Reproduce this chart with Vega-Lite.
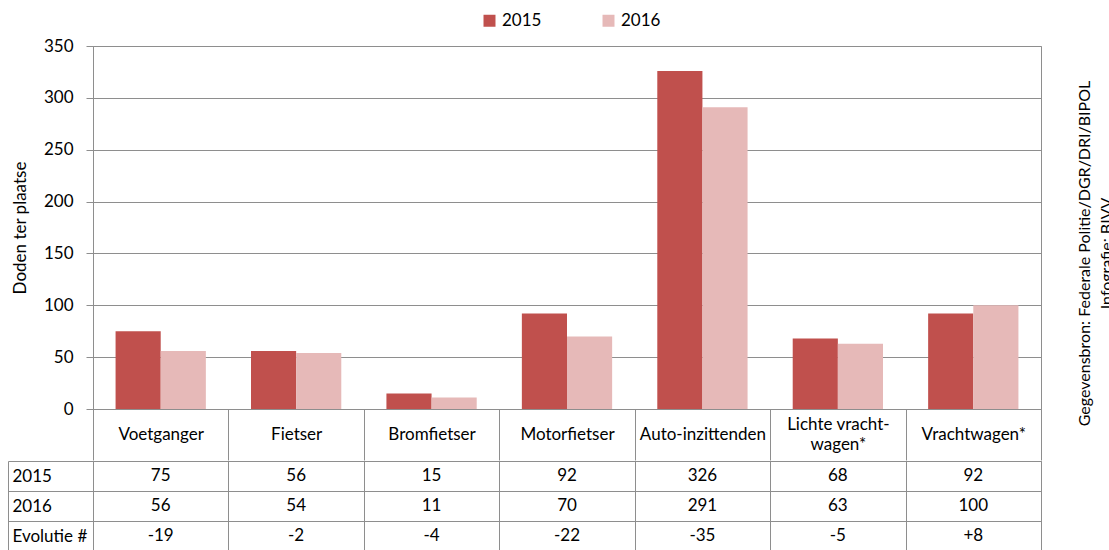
{
  "$schema": "https://vega.github.io/schema/vega-lite/v6.json",
  "padding": {"left": 7, "top": 12, "right": 0, "bottom": 0},
  "background": "white",
  "spacing": -11,
  "config": {
    "font": "Lato",
    "view": {"stroke": "#8e8e8e", "strokeWidth": 1},
    "axis": {"labelFont": "Lato", "titleFont": "Lato", "labelColor": "#000", "titleColor": "#000", "labelFontSize": 17, "titleFontSize": 17, "titleFontWeight": "normal", "domainColor": "#8e8e8e", "tickColor": "#8e8e8e", "gridColor": "#8e8e8e"},
    "legend": {"labelFont": "Lato", "labelFontSize": 17, "labelColor": "#000"}
  },
  "datasets": {
    "doden": [
      {"categorie": "Voetganger", "jaar": "2015", "waarde": 75},
      {"categorie": "Voetganger", "jaar": "2016", "waarde": 56},
      {"categorie": "Fietser", "jaar": "2015", "waarde": 56},
      {"categorie": "Fietser", "jaar": "2016", "waarde": 54},
      {"categorie": "Bromfietser", "jaar": "2015", "waarde": 15},
      {"categorie": "Bromfietser", "jaar": "2016", "waarde": 11},
      {"categorie": "Motorfietser", "jaar": "2015", "waarde": 92},
      {"categorie": "Motorfietser", "jaar": "2016", "waarde": 70},
      {"categorie": "Auto-inzittenden", "jaar": "2015", "waarde": 326},
      {"categorie": "Auto-inzittenden", "jaar": "2016", "waarde": 291},
      {"categorie": "Lichte vrachtwagen*", "jaar": "2015", "waarde": 68},
      {"categorie": "Lichte vrachtwagen*", "jaar": "2016", "waarde": 63},
      {"categorie": "Vrachtwagen*", "jaar": "2015", "waarde": 92},
      {"categorie": "Vrachtwagen*", "jaar": "2016", "waarde": 100}
    ],
    "tabel": [
      {"categorie": "Voetganger", "rij": "2015", "tekst": "75"},
      {"categorie": "Voetganger", "rij": "2016", "tekst": "56"},
      {"categorie": "Voetganger", "rij": "Evolutie #", "tekst": "-19"},
      {"categorie": "Fietser", "rij": "2015", "tekst": "56"},
      {"categorie": "Fietser", "rij": "2016", "tekst": "54"},
      {"categorie": "Fietser", "rij": "Evolutie #", "tekst": "-2"},
      {"categorie": "Bromfietser", "rij": "2015", "tekst": "15"},
      {"categorie": "Bromfietser", "rij": "2016", "tekst": "11"},
      {"categorie": "Bromfietser", "rij": "Evolutie #", "tekst": "-4"},
      {"categorie": "Motorfietser", "rij": "2015", "tekst": "92"},
      {"categorie": "Motorfietser", "rij": "2016", "tekst": "70"},
      {"categorie": "Motorfietser", "rij": "Evolutie #", "tekst": "-22"},
      {"categorie": "Auto-inzittenden", "rij": "2015", "tekst": "326"},
      {"categorie": "Auto-inzittenden", "rij": "2016", "tekst": "291"},
      {"categorie": "Auto-inzittenden", "rij": "Evolutie #", "tekst": "-35"},
      {"categorie": "Lichte vrachtwagen*", "rij": "2015", "tekst": "68"},
      {"categorie": "Lichte vrachtwagen*", "rij": "2016", "tekst": "63"},
      {"categorie": "Lichte vrachtwagen*", "rij": "Evolutie #", "tekst": "-5"},
      {"categorie": "Vrachtwagen*", "rij": "2015", "tekst": "92"},
      {"categorie": "Vrachtwagen*", "rij": "2016", "tekst": "100"},
      {"categorie": "Vrachtwagen*", "rij": "Evolutie #", "tekst": "+8"}
    ]
  },
  "vconcat": [
    {
      "width": 948,
      "height": 363,
      "data": {"name": "doden"},
      "layer": [
        {
          "mark": {"type": "bar"},
          "encoding": {
            "x": {
              "field": "categorie", "type": "nominal", "sort": null,
              "scale": {"paddingInner": 0, "paddingOuter": 0},
              "axis": {
                "title": null, "labelAngle": 0, "tickBand": "extent", "tickSize": 51,
                "labelBaseline": {"condition": {"test": "datum.value === 'Lichte vrachtwagen*'", "value": "line-bottom"}, "value": "middle"},
                "labelPadding": -26, "labelLineHeight": 20,
                "labelExpr": "datum.label == 'Lichte vrachtwagen*' ? ['Lichte vracht-', 'wagen*'] : datum.label"
              }
            },
            "xOffset": {"field": "jaar", "type": "nominal", "scale": {"paddingInner": 0, "paddingOuter": 0.5}},
            "y": {
              "field": "waarde", "type": "quantitative",
              "scale": {"domain": [0, 350]},
              "axis": {"title": "Doden ter plaatse", "values": [0, 50, 100, 150, 200, 250, 300, 350], "tickSize": 7, "labelPadding": 13, "titlePadding": 14, "grid": true}
            },
            "color": {
              "field": "jaar", "type": "nominal",
              "scale": {"domain": ["2015", "2016"], "range": ["#c0504d", "#e6b9b8"]},
              "legend": {"title": null, "orient": "none", "direction": "horizontal", "legendX": 388, "legendY": -34, "symbolType": "square", "symbolSize": 144, "symbolStrokeWidth": 0, "columnPadding": 58, "labelOffset": 4}
            }
          }
        },
        {
          "mark": {"type": "bar", "opacity": 0},
          "encoding": {
            "x": {"field": "categorie", "type": "nominal", "sort": null},
            "y": {
              "field": "waarde", "type": "quantitative",
              "axis": {"orient": "right", "labels": false, "ticks": false, "domain": false, "grid": false,
                "title": ["Gegevensbron: Federale Politie/DGR/DRI/BIPOL", "Infografie: BIVV"],
                "titleAngle": -90, "titleX": 48, "titleY": 207, "titleAlign": "center", "titleBaseline": "alphabetic", "titleFontSize": 16, "titleLineHeight": 22}
            }
          }
        }
      ],
      "resolve": {"scale": {"y": "independent"}}
    },
    {
      "width": 948,
      "height": 90,
      "data": {"name": "tabel"},
      "mark": {"type": "text", "fontSize": 17, "font": "Lato", "color": "#000"},
      "encoding": {
        "x": {
          "field": "categorie", "type": "nominal", "sort": null,
          "scale": {"paddingInner": 0, "paddingOuter": 0},
          "axis": {"title": null, "labels": false, "ticks": false, "domain": false, "grid": true, "tickBand": "extent"}
        },
        "y": {
          "field": "rij", "type": "nominal", "sort": ["2015", "2016", "Evolutie #"],
          "scale": {"paddingInner": 0, "paddingOuter": 0},
          "axis": {"title": null, "offset": 85, "tickSize": -85, "tickBand": "extent", "labelAlign": "left", "labelPadding": 81, "grid": true}
        },
        "text": {"field": "tekst"}
      }
    }
  ]
}
